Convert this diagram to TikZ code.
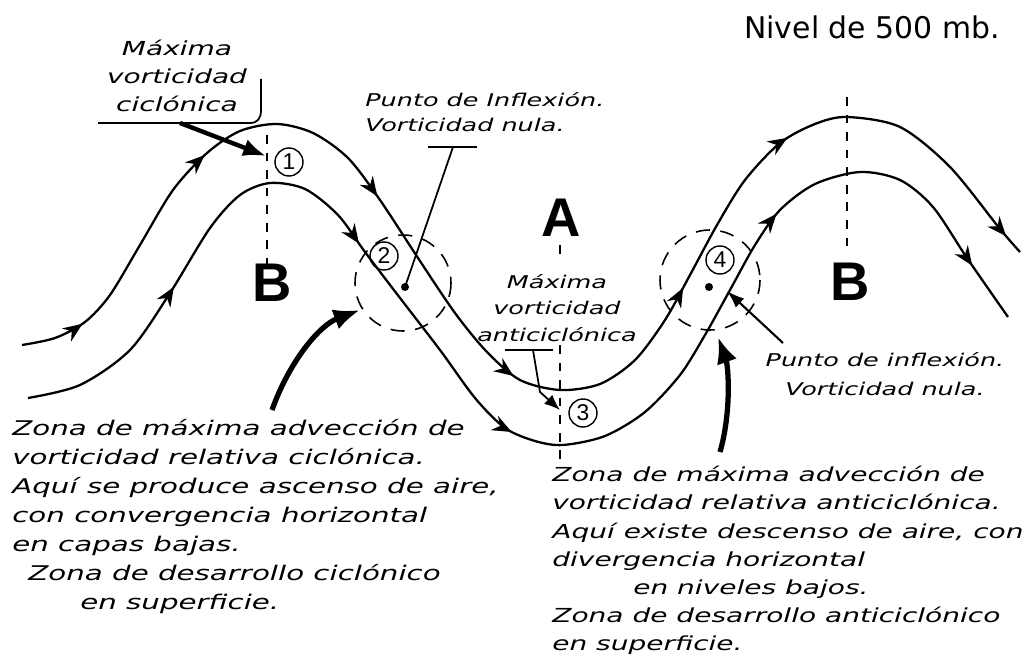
\documentclass[tikz,border=0pt]{standalone}
\usepackage{fontspec}
\setmainfont{DejaVu Sans}
\newfontfamily\notefont[FakeStretch=1.45]{DejaVu Sans}
\newfontfamily\capfont{Liberation Sans}
\usetikzlibrary{arrows.meta,decorations.markings,positioning}
\tikzset{
  stream/.style={line width=1.3pt, black, line join=round},
  flowtip/.style={postaction={decorate, decoration={markings,
      mark=at position #1 with {\arrow{Stealth[length=11pt,width=9pt]}}}}},
  zone/.style={dashed, dash pattern=on 8pt off 6pt, line width=0.9pt},
  axisline/.style={dashed, dash pattern=on 5pt off 5pt, line width=0.9pt},
}

\begin{document}
\begin{tikzpicture}[x=0.02cm, y=-0.02cm,
    note/.style={font=\notefont\itshape\fontsize{11.5}{16.5}\selectfont, align=left, inner sep=0pt},
    label/.style={font=\notefont\itshape\fontsize{10}{15}\selectfont, align=center, inner sep=0pt},
    centre/.style={font=\capfont\bfseries\fontsize{31}{31}\selectfont},
    number/.style={circle, draw, line width=0.8pt, inner sep=0pt, minimum size=0.56cm, font=\capfont\fontsize{13}{13}\selectfont},
    pointer/.style={line width=1pt},
    bigarrow/.style={line width=3pt, -{Latex[length=15pt,width=12pt]}}
]
\useasboundingbox (0,0) rectangle (1024,655);

% Streamlines
\draw[stream, flowtip=0.046, flowtip=0.195, flowtip=0.344, flowtip=0.505,
      flowtip=0.661, flowtip=0.792, flowtip=0.985]
  plot[smooth] coordinates {(22,345) (55,338) (85,322) (110,295) (140,245) (173,190)
    (207,153) (240,131) (277,124) (313,133) (348,158) (380,200) (418,258) (455,313)
    (487,352) (520,380) (560,390) (600,384) (635,360) (665,320) (690,275) (717,225)
    (745,180) (780,143) (815,124) (847,117) (900,127) (950,167) (1000,229) (1020,252)};
\draw[stream, flowtip=0.138, flowtip=0.325, flowtip=0.50, flowtip=0.775, flowtip=0.955]
  plot[smooth] coordinates {(28,398) (80,385) (130,350) (170,293) (210,228) (240,195)
    (270,183) (305,189) (338,215) (365,252) (400,298) (440,350) (475,398) (505,428)
    (535,441) (563,445) (605,436) (645,412) (680,375) (705,335) (730,290) (755,245)
    (780,210) (815,184) (860,172) (900,180) (933,207) (967,258) (1008,317)};

% Troughs and ridges
\draw[axisline] (267,135) -- (267,265);
\draw[axisline] (847,97) -- (847,247);
\draw[axisline] (560,245) -- (560,260);
\draw[axisline] (560,345) -- (560,462);

\node[centre] (lowleft) at (272,283) {B};
\node[centre] (high) at (561,218) {A};
\node[centre] (lowright) at (850,282) {B};
\node[font=\fontsize{17}{17}\selectfont] (level) at (872,27) {Nivel de 500 mb.};

% Zones
\draw[zone] (403,283) circle [radius=48];
\draw[zone] (710,280) circle [radius=50];
\coordinate (dot2) at (405,287);
\coordinate (dot4) at (709,287);
\fill (dot2) circle [radius=4];
\fill (dot4) circle [radius=4];

\node[number] (n1) at (289,162) {1};
\node[number] (n2) at (384,256) {2};
\node[number] (n3) at (583,413) {3};
\node[number] (n4) at (720,260) {4};

% Labels
\node[label, font=\notefont\itshape\fontsize{11}{16}\selectfont] (maxcyc) at (177,76) {Máxima\\vorticidad\\ciclónica};
\coordinate (max1) at (266,156);
\draw[pointer] (98,123) -- (250,123) .. controls (258,123) and (261,118) .. (261,110) -- (261,79);
\draw[line width=2.5pt, -{Latex[length=13pt,width=10pt]}] (180,123) -- (max1);

\node[label, align=left, font=\notefont\itshape\fontsize{10}{14}\selectfont, anchor=west] (inflex2) at (365,112) {Punto de Inflexión.\\Vorticidad nula.};
\draw[pointer] (428,147) -- (477,147);
\draw[pointer] (453,147) -- (dot2);

\node[label] (maxanti) at (557,308) {Máxima\\vorticidad\\anticiclónica};
\coordinate (max3) at (560,410);
\draw[pointer] (505,350) -- (553,350);
\draw[pointer, -{Latex[length=9pt,width=7pt]}] (533,350) -- (540,392) -- (max3);

\node[label, font=\notefont\itshape\fontsize{10}{16.5}\selectfont] (inflex4) at (885,374) {Punto de inflexión.\\Vorticidad nula.};
\draw[pointer, line width=1.2pt, -{Latex[length=10pt,width=7pt]}] (783,343) -- (727,291);

% Descriptions
\node[note, anchor=north west] (cyczone) at (12,419) {Zona de máxima advección de\\
vorticidad relativa ciclónica.\\
Aquí se produce ascenso de aire,\\
con convergencia horizontal\\
en capas bajas.\\
\hspace*{0.32cm}Zona de desarrollo ciclónico\\
\hspace*{1.36cm}en superficie.};
\draw[bigarrow] (272,410) .. controls (290,360) and (320,325) .. (360,310);

\node[note, font=\notefont\itshape\fontsize{11}{16}\selectfont, anchor=north west] (anticzone) at (552,466) {Zona de máxima advección de\\
vorticidad relativa anticiclónica.\\
Aquí existe descenso de aire, con\\
divergencia horizontal\\
\hspace*{1.62cm}en niveles bajos.\\
Zona de desarrollo anticiclónico\\
en superficie.};
\draw[bigarrow] (720,452) .. controls (732,410) and (728,365) .. (718,337);
\end{tikzpicture}
\end{document}
